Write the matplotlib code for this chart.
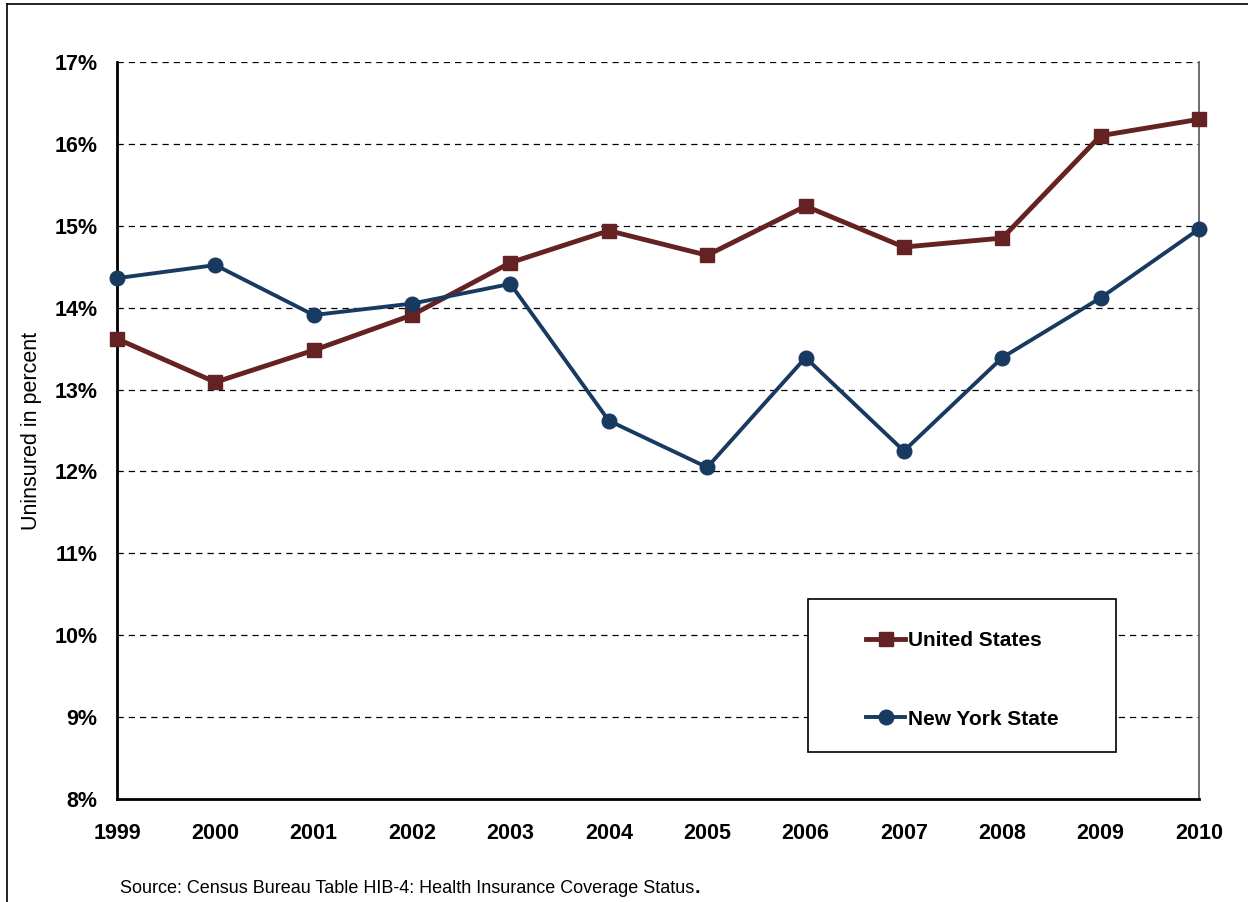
import matplotlib.pyplot as plt
from matplotlib.patches import Rectangle
from matplotlib.lines import Line2D

plt.rcParams['font.family'] = ['Liberation Sans', 'DejaVu Sans']

# Datos
anios = [1999, 2000, 2001, 2002, 2003, 2004, 2005, 2006, 2007, 2008, 2009, 2010]
estados_unidos = [13.62, 13.09, 13.48, 13.91, 14.55, 14.94, 14.64, 15.24, 14.74, 14.85, 16.10, 16.30]
nueva_york = [14.36, 14.52, 13.91, 14.05, 14.29, 12.62, 12.05, 13.39, 12.25, 13.39, 14.12, 14.96]
ticks_y = [8, 9, 10, 11, 12, 13, 14, 15, 16, 17]

color_us = '#652222'
color_ny = '#183A60'

fig = plt.figure(figsize=(12.48, 9.02), dpi=100)
ax = fig.add_axes([117/1248, 1 - 799/902, (1199 - 117)/1248, (799 - 62)/902])

ax.plot(anios, estados_unidos, color=color_us, lw=3.5, marker='s', ms=9.5,
        label='United States', clip_on=False, zorder=3)
ax.plot(anios, nueva_york, color=color_ny, lw=2.8, marker='o', ms=10.5,
        label='New York State', clip_on=False, zorder=4)

ax.set_xlim(1999, 2010)
ax.set_ylim(8, 17)
ax.set_xticks(anios)
ax.set_yticks(ticks_y)
ax.set_yticklabels([f'{v}%' for v in ticks_y])
ax.tick_params(length=0, labelsize=15.5)
ax.tick_params(axis='x', pad=17)
ax.tick_params(axis='y', pad=14)
for lbl in ax.get_xticklabels() + ax.get_yticklabels():
    lbl.set_fontweight('bold')

# lineas de cuadricula punteadas
for v in ticks_y[1:]:
    ax.axhline(v, color='black', lw=0.9, ls=(0, (5, 4)), zorder=1)

ax.spines['top'].set_visible(False)
ax.spines['right'].set_color('#555555')
ax.spines['right'].set_linewidth(1.2)
ax.spines['left'].set_linewidth(2)
ax.spines['bottom'].set_linewidth(2)

ax.set_ylabel('Uninsured in percent', fontsize=15.5, labelpad=9)

# cuadro de la leyenda
x0 = (808 - 117) / 1082
x1 = (1116 - 117) / 1082
y0 = (799 - 752) / 737
y1 = (799 - 599) / 737
ax.add_patch(Rectangle((x0, y0), x1 - x0, y1 - y0, transform=ax.transAxes,
                       facecolor='white', edgecolor='black', lw=1.2, zorder=5))
leg = ax.legend(loc='center', bbox_to_anchor=(x0, y0 - 0.006, x1 - x0, y1 - y0),
                frameon=False, prop={'size': 15, 'weight': 'bold'},
                handlelength=1.9, handletextpad=0.1, labelspacing=2.85)
leg.set_zorder(6)

# marco exterior
fig.add_artist(Line2D([7/1248, 7/1248], [0, 1 - 4/902], color='black', lw=1.2))
fig.add_artist(Line2D([7/1248, 1], [1 - 4/902, 1 - 4/902], color='black', lw=1.2))

fuente = fig.text(120/1248, 1 - 893/902, 'Source: Census Bureau Table HIB-4: Health Insurance Coverage Status',
                  fontsize=13)
ax.annotate('.', xy=(1, 0), xycoords=fuente, va='bottom', ha='left',
            fontsize=14, fontweight='bold', annotation_clip=False)

fig.savefig('out.png', dpi=100)
